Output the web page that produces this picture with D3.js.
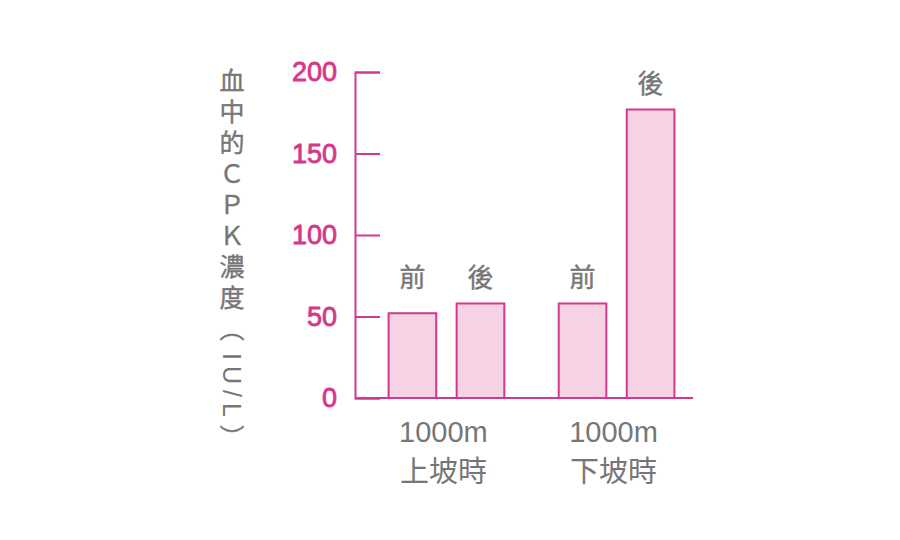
<!DOCTYPE html>
<html>
<head>
<meta charset="utf-8">
<script src="https://cdn.jsdelivr.net/npm/d3@7"></script>
<style>
  html, body { margin: 0; padding: 0; background: #fff; }
  svg { display: block; font-family: "Liberation Sans", "Noto Sans CJK TC", sans-serif; }
</style>
</head>
<body>
<div id="chart"></div>
<script>
// ---- Data ----
const groups = ['1000m\n上坡時', '1000m\n下坡時'];
const phases = ['前', '後'];
const cpkUphill = [52, 58];
const cpkDownhill = [58, 177];
const yTicks = [0, 50, 100, 150, 200];
const titleHead = '血中的ＣＰＫ濃度（';
const titleUnit = 'IU/L';
const titleTail = '）';

const series = [cpkUphill, cpkDownhill];

// ---- Setup ----
const W = 900, H = 540;
const pink = '#d4388c';
const grey = '#767676';
const cjk = '"Noto Sans CJK TC", sans-serif';
const latin = '"Liberation Sans", Arial, sans-serif';

const svg = d3.select('#chart').append('svg')
  .attr('width', W).attr('height', H);

const axisX = 355, axisRight = 693;

const y = d3.scaleLinear().domain([0, 200]).range([398, 72]);

const x0 = d3.scaleBand()
  .domain(d3.range(groups.length))
  .range([375, 688])
  .paddingInner(0.32)
  .paddingOuter(0.08);

const x1 = d3.scaleBand()
  .domain(phases)
  .range([0, x0.bandwidth()])
  .paddingInner(0.3)
  .paddingOuter(0);

// ---- Y axis ----
const yAxis = svg.append('g')
  .attr('transform', `translate(${axisX},0)`)
  .call(d3.axisLeft(y).tickValues(yTicks).tickSize(-25).tickPadding(18).tickFormat(d3.format('d')));

yAxis.select('.domain').attr('stroke', pink).attr('stroke-width', 2);
yAxis.selectAll('.tick line').attr('stroke', pink).attr('stroke-width', 2);
yAxis.selectAll('.tick text')
  .attr('fill', pink)
  .attr('stroke', pink)
  .attr('stroke-width', 0.8)
  .attr('font-size', 27)
  .attr('font-family', latin);

// ---- X baseline ----
svg.append('line')
  .attr('x1', axisX).attr('x2', axisRight)
  .attr('y1', y(0)).attr('y2', y(0))
  .attr('stroke', pink).attr('stroke-width', 2);

// ---- Bars ----
const gGroups = svg.selectAll('.grp')
  .data(series)
  .join('g')
  .attr('class', 'grp')
  .attr('transform', (_, i) => `translate(${x0(i)},0)`);

gGroups.selectAll('rect')
  .data(d => d.map((v, j) => ({ v, phase: phases[j] })))
  .join('rect')
  .attr('x', d => x1(d.phase))
  .attr('width', x1.bandwidth())
  .attr('y', d => y(d.v))
  .attr('height', d => y(0) - y(d.v))
  .attr('fill', '#f6d3e4')
  .attr('stroke', pink)
  .attr('stroke-width', 2);

// phase labels above bars (short bars share one level)
gGroups.selectAll('text.phase')
  .data(d => d.map((v, j) => ({ v, phase: phases[j] })))
  .join('text')
  .attr('class', 'phase')
  .attr('x', d => x1(d.phase) + x1.bandwidth() / 2)
  .attr('y', d => y(Math.max(d.v, 58)) - 16)
  .attr('text-anchor', 'middle')
  .attr('font-size', 26)
  .attr('fill', grey)
  .attr('stroke', grey)
  .attr('stroke-width', 0.4)
  .attr('font-family', cjk)
  .text(d => d.phase);

// ---- Group labels ----
const gl = svg.selectAll('.glabel')
  .data(groups)
  .join('text')
  .attr('class', 'glabel')
  .attr('text-anchor', 'middle')
  .attr('fill', grey)
  .attr('font-size', 29);

gl.selectAll('tspan')
  .data((d, i) => d.split('\n').map(s => ({ s, i })))
  .join('tspan')
  .attr('x', d => x0(d.i) + x0.bandwidth() / 2 - 3)
  .attr('y', (d, k) => k === 0 ? 442 : 482)
  .attr('font-family', (d, k) => k === 0 ? latin : cjk)
  .text(d => d.s);

// ---- Y title (vertical, unit turned sideways) ----
const tx = 232, ty0 = 68, tSize = 25, tSpace = 6;

const head = svg.append('text')
  .attr('x', tx).attr('y', ty0)
  .style('writing-mode', 'vertical-rl')
  .attr('font-size', tSize)
  .attr('letter-spacing', tSpace)
  .attr('fill', grey)
  .attr('stroke', grey)
  .attr('stroke-width', 0.4)
  .attr('font-family', cjk)
  .text(titleHead);
const headLen = head.node().getComputedTextLength() || titleHead.length * (tSize + tSpace);

const unitY = ty0 + headLen + 6;
const unit = svg.append('text')
  .attr('transform', `translate(${tx},${unitY}) rotate(90)`)
  .attr('dominant-baseline', 'central')
  .attr('font-size', tSize)
  .attr('letter-spacing', 6)
  .attr('fill', grey)
  .attr('font-family', latin)
  .text(titleUnit);
const unitLen = unit.node().getComputedTextLength();

svg.append('text')
  .attr('x', tx).attr('y', unitY + unitLen + 2)
  .style('writing-mode', 'vertical-rl')
  .attr('font-size', tSize)
  .attr('fill', grey)
  .attr('stroke', grey)
  .attr('stroke-width', 0.4)
  .attr('font-family', cjk)
  .text(titleTail);
</script>
</body>
</html>
